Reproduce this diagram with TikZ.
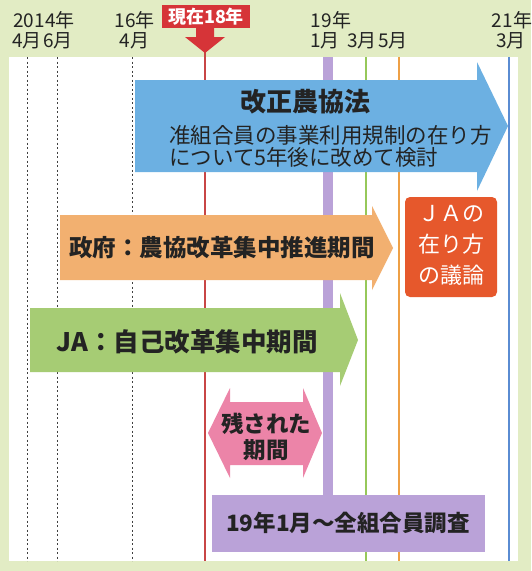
\documentclass[tikz,border=0pt]{standalone}
\usepackage{fontspec}
\setmainfont{Noto Sans CJK JP}
\definecolor{bggreen}{RGB}{226,236,196}
\definecolor{bluearr}{RGB}{108,176,226}
\definecolor{orangearr}{RGB}{242,176,112}
\definecolor{greenarr}{RGB}{166,204,116}
\definecolor{pinkarr}{RGB}{236,132,168}
\definecolor{purplebox}{RGB}{186,162,216}
\definecolor{redlab}{RGB}{214,52,56}
\definecolor{redbox}{RGB}{230,88,44}
\definecolor{redline}{RGB}{200,70,70}
\definecolor{greenline}{RGB}{150,200,90}
\definecolor{orangeline}{RGB}{238,160,70}
\definecolor{blueline}{RGB}{90,140,210}
\definecolor{txt}{RGB}{35,35,35}
\begin{document}
\begin{tikzpicture}[x=1pt,y=-1pt,
  every node/.style={inner sep=0pt,text=txt},
  datelab/.style={font=\fontsize{19}{19}\selectfont},
  dashline/.style={black!75,line width=0.7pt,dash pattern=on 2pt off 2.5pt},
  vline/.style={line width=1.2pt},
  bigtxt/.style={font=\bfseries\fontsize{23.5}{23.5}\selectfont},
  midtxt/.style={font=\fontsize{21.5}{21.5}\selectfont}]
\useasboundingbox (0,0) rectangle (531,571);
\fill[bggreen] (0,0) rectangle (531,571);
\fill[white] (9,57) rectangle (518,561);
% timeline lines
\draw[dashline] (27,57) -- (27,561);
\draw[dashline] (57,57) -- (57,561);
\draw[dashline] (132,57) -- (132,561);
\draw[vline,redline] (205,50) -- (205,561);
\draw[vline,greenline] (366,57) -- (366,561);
\draw[vline,orangeline] (399,57) -- (399,561);
\draw[vline,blueline] (509,57) -- (509,561);
\fill[purplebox] (323,57) rectangle (333,500);
% date labels
\node[datelab] (y14) at (44,20) {2014年};
\node[datelab] (m14a) at (27,41) {4月};
\node[datelab] (m14b) at (58,41) {6月};
\node[datelab] (y16) at (134.5,20) {16年};
\node[datelab] (m16) at (134.5,41) {4月};
\node[datelab] (y19) at (331,20) {19年};
\node[datelab] (m19a) at (325,41) {1月};
\node[datelab] (m19b) at (362,41) {3月};
\node[datelab] (m19c) at (393,41) {5月};
\node[datelab] (y21) at (512,20) {21年};
\node[datelab] (m21) at (511,41) {3月};
% now marker
\fill[redlab] (162,5) rectangle (250,28);
\fill[redlab] (196,27) -- (214,27) -- (214,37) -- (225,37) -- (205,53) -- (185,37) -- (196,37) -- cycle;
\node[text=white,font=\bfseries\fontsize{18}{18}\selectfont] (now) at (206,17) {現在18年};
% blue arrow
\fill[bluearr] (135,80) -- (477,80) -- (477,62) -- (508,126) -- (477,191) -- (477,172) -- (135,172) -- cycle;
\node[font=\bfseries\fontsize{26}{26}\selectfont] (law) at (305,102) {改正農協法};
\node[midtxt,anchor=west] (law2) at (169,135) {准組合員の事業利用規制の在り方};
\node[midtxt,anchor=west] (law3) at (169,157) {について5年後に改めて検討};
% orange arrow
\fill[orangearr] (60,215) -- (372,215) -- (372,206) -- (393,248) -- (372,290) -- (372,280) -- (60,280) -- cycle;
\node[bigtxt] (gov) at (222,248) {政府：農協改革集中推進期間};
% red box
\fill[redbox,rounded corners=5pt] (405,197) rectangle (497,297);
\node[text=white,font=\fontsize{22}{22}\selectfont] (ja1) at (451,214) {ＪＡの};
\node[text=white,font=\fontsize{22}{22}\selectfont] (ja2) at (451,244) {在り方};
\node[text=white,font=\fontsize{22}{22}\selectfont] (ja3) at (451,275) {の議論};
% green arrow
\fill[greenarr] (30,308) -- (340,308) -- (340,293) -- (358,340) -- (340,386) -- (340,372) -- (30,372) -- cycle;
\node[font=\bfseries\fontsize{25.5}{25.5}\selectfont] (ja) at (187,342) {JA：自己改革集中期間};
% pink double arrow
\fill[pinkarr] (208,433) -- (230,388) -- (230,402) -- (303,402) -- (303,388) -- (322,433) -- (303,478) -- (303,465) -- (230,465) -- (230,478) -- cycle;
\node[font=\bfseries\fontsize{22.5}{22.5}\selectfont] (rem1) at (266,424) {残された};
\node[font=\bfseries\fontsize{22.5}{22.5}\selectfont] (rem2) at (266,450) {期間};
% purple box
\fill[purplebox] (212,495) rectangle (485,552);
\node[font=\bfseries\fontsize{22.5}{22.5}\selectfont] (survey) at (348,523) {19年1月～全組合員調査};
\end{tikzpicture}
\end{document}
